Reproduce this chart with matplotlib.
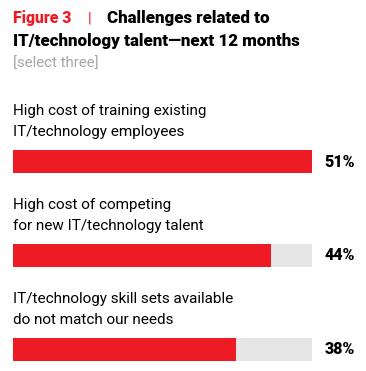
import matplotlib
matplotlib.use("Agg")
import matplotlib.pyplot as plt

labels = [
    "High cost of training existing\nIT/technology employees",
    "High cost of competing\nfor new IT/technology talent",
    "IT/technology skill sets available\ndo not match our needs",
]
values = [51, 44, 38]
value_labels = ["51%", "44%", "38%"]

W, H = 366, 371
RED = "#ed1c24"
GRAY = "#e6e6e6"

plt.rcParams["font.family"] = ["Roboto", "DejaVu Sans"]

fig = plt.figure(figsize=(W / 100, H / 100), dpi=100)


def px(x, y):
    return x / W, 1 - y / H


# title
fig.text(*px(13, 18), "Figure 3", color=RED, fontsize=11.3, fontweight="black", va="center")
fig.text(*px(88, 18), "|", color=RED, fontsize=11, va="center")
fig.text(*px(107, 18), "Challenges related to", color="black", fontsize=12.2,
         fontweight="black", va="center")
fig.text(*px(13, 41), "IT/technology talent\u2014next 12 months", color="black",
         fontsize=12.2, fontweight="black", va="center")
fig.text(*px(13, 64), "[select three]", color="#a6a6a6", fontsize=10.8, va="center")

# bars
left, right = 13, 312
top, bottom = 150, 361
bar_h = 0.245
ax = fig.add_axes([left / W, 1 - bottom / H, (right - left) / W, (bottom - top) / H])
pos = list(range(len(values)))
vmax = max(values)
ax.barh(pos, [vmax] * len(values), height=bar_h, color=GRAY, left=0)
ax.barh(pos, values, height=bar_h, color=RED, left=0)
ax.set_xlim(0, vmax)
ax.set_ylim(len(values) - 1 + bar_h / 2, -bar_h / 2)
ax.axis("off")

for i, (lab, vl) in enumerate(zip(labels, value_labels)):
    ax.text(vmax * 1.043, i, vl, fontsize=11.5, fontweight="black", va="center", ha="left")
    ax.annotate(lab, xy=(0, i - bar_h / 2), xycoords="data", xytext=(0, 8),
                textcoords="offset points", ha="left", va="bottom", fontsize=11,
                linespacing=1.6, annotation_clip=False)

fig.savefig("out.png", dpi=100)
